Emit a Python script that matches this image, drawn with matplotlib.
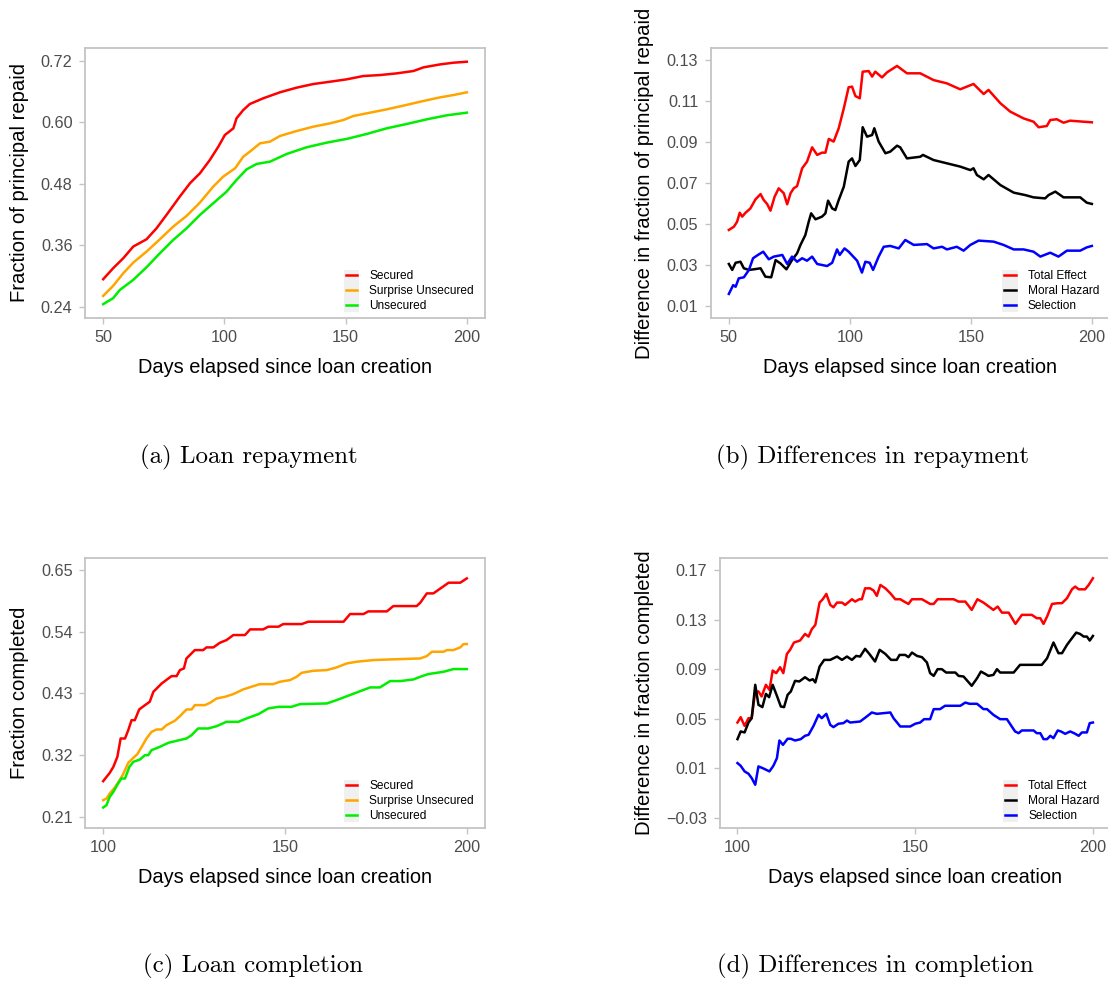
import matplotlib.pyplot as plt
from matplotlib.patches import Rectangle

plt.rcParams['font.family'] = ['Liberation Sans', 'DejaVu Sans']

# (a) fraction of principal repaid, days 50-200
a_days_secured = [50, 54.1, 58.3, 62.4, 67.9, 72, 76.1, 81.6, 85.8, 89.9, 94, 97.5, 100.2, 103.7, 105, 107.8,
                  110.5, 116, 122.9, 129.8, 136.7, 143.6, 150.4, 157.3, 164.2, 171.1, 178, 182.1, 189, 194.5, 200]
a_secured = [0.2936, 0.315, 0.3346, 0.3573, 0.3716, 0.393, 0.419, 0.4548, 0.4808, 0.5003, 0.5263, 0.5523, 0.575,
             0.588, 0.6076, 0.6238, 0.6355, 0.6466, 0.6583, 0.6674, 0.6745, 0.679, 0.6836, 0.6901, 0.692, 0.6953,
             0.6999, 0.707, 0.7128, 0.7161, 0.718]
a_days_surprise = [50, 54.1, 58.3, 62.4, 67.9, 73.4, 78.9, 84.4, 89.9, 95.4, 99.5, 104.4, 107.8, 110.5, 114.7, 118.8,
                   122.9, 129.8, 136.7, 143.6, 149.1, 153.2, 160.1, 167, 173.8, 182.1, 189, 194.5, 200]
a_surprise = [0.261, 0.2806, 0.3053, 0.326, 0.3476, 0.3716, 0.3963, 0.4171, 0.4431, 0.4743, 0.4938, 0.51, 0.5328,
              0.5425, 0.5588, 0.562, 0.5731, 0.5828, 0.5913, 0.5978, 0.6043, 0.6121, 0.6186, 0.6251, 0.6323, 0.6414,
              0.6485, 0.653, 0.6583]
a_days_unsecured = [50, 54.1, 56.9, 62.4, 67.9, 73.4, 78.9, 84.4, 89.9, 95.4, 100.9, 105, 109.2, 113.3, 118.8, 125.7,
                    133.9, 142.2, 150.4, 158.7, 167, 175.2, 183.5, 191.7, 200]
a_unsecured = [0.2449, 0.2566, 0.2728, 0.2923, 0.317, 0.3443, 0.3703, 0.393, 0.419, 0.4418, 0.4645, 0.4873, 0.5081,
               0.5185, 0.523, 0.538, 0.551, 0.5601, 0.5673, 0.577, 0.5881, 0.5965, 0.6056, 0.6134, 0.6186]

# (b) differences in repayment
b_days_total = [50, 52.1, 53.4, 54.5, 55.5, 56.9, 58.9, 61, 63.1, 64.4, 65.8, 67.2, 68.9, 70.6, 72.7, 74.1, 75.5,
                76.8, 78.2, 80.3, 82.3, 84.4, 86.5, 88.5, 89.9, 91.3, 93.3, 95.4, 97.5, 99.5, 100.9, 102.3, 104.1,
                105.3, 107.8, 109.2, 110.5, 113.3, 115.4, 119.5, 123.6, 129.1, 134.6, 140.1, 145.6, 151.1, 155.3,
                157.3, 162.2, 166.3, 171.8, 175.9, 178, 181.4, 182.8, 185.5, 188.3, 191, 196.5, 200]
b_total = [0.0471, 0.0487, 0.0511, 0.0555, 0.0536, 0.0555, 0.0576, 0.062, 0.0646, 0.0617, 0.0598, 0.0565, 0.0633,
           0.0674, 0.065, 0.0596, 0.065, 0.0674, 0.0685, 0.0772, 0.0804, 0.0874, 0.0837, 0.0848, 0.0848, 0.0915,
           0.0902, 0.0967, 0.1064, 0.1167, 0.117, 0.1124, 0.1113, 0.1243, 0.1246, 0.1219, 0.1243, 0.1215, 0.124,
           0.1271, 0.1235, 0.1235, 0.1202, 0.1186, 0.1157, 0.1183, 0.1134, 0.1154, 0.1089, 0.1048, 0.1015, 0.0999,
           0.0972, 0.0978, 0.1007, 0.1011, 0.0994, 0.1004, 0.0999, 0.0996]
b_days_moral = [50, 51.4, 52.8, 54.8, 56.2, 58.3, 60.3, 63.1, 65.1, 67.5, 69.3, 71.3, 73.8, 76.1, 78.2, 79.6, 81.6,
                83, 84, 85.8, 88.5, 89.9, 91, 92.7, 94, 95.4, 97.5, 99.5, 100.9, 102.3, 104.1, 105.3, 107.1, 109.2,
                110.1, 111.9, 114.7, 116.7, 119.5, 120.8, 123.6, 129.1, 130.2, 134.6, 140.1, 145.6, 149.8, 151.1,
                152.5, 155.3, 157.3, 162.2, 167.7, 172.5, 175.9, 180.7, 182.1, 184.9, 188.3, 195.2, 197.9, 200]
b_moral = [0.0305, 0.0276, 0.0311, 0.0316, 0.0284, 0.0276, 0.0279, 0.0284, 0.0243, 0.024, 0.0324, 0.0308, 0.0279,
           0.0324, 0.0357, 0.0398, 0.0446, 0.0511, 0.0552, 0.0523, 0.0536, 0.0552, 0.0614, 0.0576, 0.0568, 0.0617,
           0.0682, 0.0804, 0.082, 0.0783, 0.0812, 0.0972, 0.0926, 0.0934, 0.0967, 0.0902, 0.0845, 0.0853, 0.0882,
           0.0874, 0.082, 0.0828, 0.0837, 0.0812, 0.0796, 0.078, 0.0763, 0.0772, 0.0739, 0.0718, 0.0739, 0.069,
           0.0653, 0.0641, 0.063, 0.0625, 0.0641, 0.0658, 0.063, 0.063, 0.0604, 0.0598]
b_days_selection = [50, 51.8, 52.8, 54.1, 56.2, 58.3, 60, 62, 64.2, 66.5, 68.6, 72.1, 74.1, 76.1, 78.2, 80.3, 82.3,
                    84.4, 86.5, 90.6, 92.7, 94.7, 95.8, 97.8, 99.5, 103, 105, 106.4, 108.2, 109.6, 111.9, 114,
                    116.7, 120.2, 122.9, 126.4, 131.9, 134.6, 138.1, 140.1, 144.2, 147, 149.8, 153.2, 159.4, 163.5,
                    167.7, 171.8, 175.9, 178.7, 182.8, 186.2, 189.7, 195.2, 197.9, 200]
b_selection = [0.0159, 0.0202, 0.0194, 0.0235, 0.024, 0.0276, 0.0333, 0.0349, 0.0365, 0.0328, 0.0341, 0.0349,
               0.0305, 0.0341, 0.0316, 0.0333, 0.0321, 0.0341, 0.0305, 0.0295, 0.0311, 0.0376, 0.0349, 0.0381,
               0.0365, 0.0321, 0.0263, 0.0316, 0.0311, 0.0276, 0.0341, 0.0389, 0.0393, 0.0381, 0.0422, 0.0398,
               0.0402, 0.0381, 0.0389, 0.0376, 0.0389, 0.037, 0.0398, 0.0419, 0.0414, 0.0398, 0.0376, 0.0376,
               0.0365, 0.0341, 0.036, 0.0341, 0.037, 0.037, 0.0386, 0.0393]

# (c) fraction of loans completed, days 100-200
c_days_secured = [100, 101.8, 102.8, 103.9, 104.8, 106, 106.9, 107.8, 108.7, 109.9, 111.5, 112.8, 113.8, 116.1,
                  118.8, 120.2, 121.1, 122.2, 122.9, 125.2, 127.5, 128.4, 130.3, 132.1, 133.9, 135.8, 139, 140.4,
                  144, 145.4, 148.2, 149.5, 154.6, 156.4, 166.1, 167.9, 171.6, 172.9, 178, 179.8, 186.2, 187.2, 189,
                  190.8, 195, 198.2, 200]
c_secured = [0.2734, 0.2882, 0.299, 0.3168, 0.3495, 0.3495, 0.3644, 0.3822, 0.3822, 0.4013, 0.409, 0.415, 0.4328,
             0.4477, 0.4608, 0.4608, 0.4715, 0.4745, 0.4923, 0.5072, 0.5072, 0.512, 0.512, 0.5203, 0.525, 0.534,
             0.534, 0.5441, 0.5441, 0.5489, 0.5489, 0.5536, 0.5536, 0.5578, 0.5578, 0.5715, 0.5715, 0.5762, 0.5762,
             0.5857, 0.5857, 0.5917, 0.6083, 0.6083, 0.6274, 0.6274, 0.6351]
c_days_surprise = [100, 100.9, 101.8, 103.2, 104.4, 105.5, 106.9, 108.1, 109.4, 110.6, 111.9, 113.3, 114.7, 116.1,
                   117.4, 119.7, 121.1, 122.9, 124.3, 125.2, 128, 129.4, 131.2, 133.5, 135.8, 138.5, 141.3, 143.1,
                   146.8, 148.6, 151.4, 153.2, 154.6, 157.8, 161.5, 164.2, 167, 169.7, 174.3, 178.9, 187.2, 189,
                   190.4, 193.6, 194.5, 196.3, 198.2, 199.1, 200]
c_surprise = [0.2395, 0.2424, 0.2514, 0.2621, 0.2739, 0.2859, 0.3061, 0.3138, 0.3216, 0.3347, 0.3495, 0.3614,
              0.3656, 0.3656, 0.3733, 0.3811, 0.3894, 0.4013, 0.4013, 0.409, 0.409, 0.4132, 0.4209, 0.4239, 0.4287,
              0.437, 0.4429, 0.4465, 0.4465, 0.4507, 0.4537, 0.4596, 0.4667, 0.4703, 0.4715, 0.4763, 0.4834,
              0.4864, 0.4894, 0.4905, 0.4923, 0.4965, 0.5042, 0.5042, 0.5072, 0.5072, 0.512, 0.5179, 0.5179]
c_days_unsecured = [100, 100.9, 101.8, 102.8, 104.1, 105, 106, 107.2, 108.3, 110.1, 111.5, 112.4, 113.3, 115.6,
                    117.9, 120.2, 122.9, 124.3, 126.1, 128.9, 131.2, 133.9, 137.2, 139.4, 142.7, 145.4, 148.2,
                    151.8, 154.1, 161.5, 164.2, 173.4, 176.1, 178.9, 181.7, 185.3, 187.2, 189.4, 193.6, 196.3, 200]
c_unsecured = [0.2264, 0.2305, 0.2454, 0.2543, 0.2692, 0.2781, 0.2781, 0.2989, 0.3079, 0.312, 0.3198, 0.3198,
               0.3287, 0.3347, 0.3418, 0.3454, 0.3495, 0.3555, 0.3674, 0.3674, 0.3715, 0.3793, 0.3793, 0.3852,
               0.393, 0.4031, 0.406, 0.406, 0.4108, 0.412, 0.418, 0.4406, 0.4406, 0.4519, 0.4519, 0.4548, 0.4596,
               0.4644, 0.4685, 0.4733, 0.4733]

# (d) differences in completion
d_days_total = [100, 100.9, 102, 103.1, 104, 105, 105.9, 106.8, 108, 109, 109.9, 110.9, 112, 112.9, 113.9, 114.8,
                115.9, 117.6, 119, 120, 120.9, 121.9, 123.1, 124, 125, 126.1, 127, 128, 129.4, 130.3, 132.2, 133.1,
                134.3, 135, 135.9, 137.3, 138.3, 139.2, 140.2, 141.6, 143, 144.4, 145.8, 146.9, 148.1, 149.1, 151.9,
                154.2, 155.2, 156.3, 160.8, 162.2, 164.1, 165.9, 167.5, 169.2, 172, 173.2, 174.4, 176.3, 178.2, 180,
                182.8, 184.2, 185.2, 186.1, 187.1, 188.5, 190.1, 191.3, 192.7, 194.1, 195, 196, 197.8, 198.8, 200]
d_total = [0.047, 0.0513, 0.0443, 0.0505, 0.0505, 0.072, 0.072, 0.068, 0.0774, 0.0733, 0.0889, 0.0868, 0.0916,
           0.0868, 0.1023, 0.1056, 0.1115, 0.1131, 0.1184, 0.1163, 0.1222, 0.1257, 0.1437, 0.1464, 0.1507, 0.1418,
           0.1399, 0.1437, 0.1437, 0.1418, 0.1464, 0.1445, 0.1464, 0.1464, 0.1552, 0.1552, 0.1534, 0.1491, 0.1579,
           0.1552, 0.1512, 0.1464, 0.1464, 0.1445, 0.1426, 0.1464, 0.1464, 0.1426, 0.1426, 0.1464, 0.1464, 0.1445,
           0.1445, 0.1378, 0.1464, 0.1437, 0.1378, 0.1405, 0.1356, 0.1356, 0.1265, 0.1338, 0.1338, 0.1311, 0.1311,
           0.1265, 0.1324, 0.1426, 0.1432, 0.1432, 0.1472, 0.1544, 0.1566, 0.1544, 0.1544, 0.1579, 0.1633]
d_days_moral = [100, 100.9, 102, 103.1, 104, 105, 105.9, 107, 108, 108.9, 109.9, 111.1, 112.2, 113.1, 114.1, 115,
                116.2, 117.4, 119, 120.3, 121.2, 121.9, 123.1, 124.4, 126.1, 128, 129.4, 130.8, 132.2, 133.4, 134.5,
                135.9, 137.1, 138.7, 140, 141.6, 143.2, 144.8, 145.6, 147.2, 148.1, 149.1, 150.5, 151.9, 153.3,
                154.2, 155.2, 156.3, 157.5, 158.7, 161.3, 162.2, 163.6, 165.9, 167.4, 168.5, 169.7, 170.6, 172, 173,
                173.9, 177.7, 179.5, 185.6, 187.1, 188.9, 190.3, 191.3, 192.7, 193.6, 195.3, 196.4, 197.4, 198.3,
                199.1, 200]
d_moral = [0.0336, 0.0398, 0.039, 0.047, 0.0505, 0.0774, 0.0613, 0.0594, 0.0701, 0.0674, 0.0774, 0.0685, 0.0599,
           0.0594, 0.0693, 0.072, 0.0806, 0.0801, 0.0835, 0.0809, 0.0819, 0.0793, 0.0921, 0.0975, 0.0975, 0.1002,
           0.0975, 0.1002, 0.0975, 0.1007, 0.1002, 0.1064, 0.1023, 0.0962, 0.1056, 0.1023, 0.0975, 0.0975, 0.1015,
           0.1015, 0.0997, 0.1034, 0.1007, 0.0997, 0.0954, 0.0868, 0.0846, 0.09, 0.09, 0.0873, 0.0873, 0.0846,
           0.0841, 0.0766, 0.0827, 0.0881, 0.0862, 0.0846, 0.0854, 0.09, 0.0873, 0.0873, 0.0935, 0.0935, 0.0988,
           0.1115, 0.1029, 0.1029, 0.1096, 0.1131, 0.1195, 0.1184, 0.1163, 0.1163, 0.1131, 0.1168]
d_days_selection = [100, 100.9, 102, 103.1, 104, 105, 105.9, 107.1, 109, 110.1, 111.1, 111.8, 112.8, 114.1, 115,
                    116.2, 117.8, 119, 120, 121.4, 122.8, 123.7, 125, 126.1, 127, 128.4, 129.8, 130.8, 131.7, 134.5,
                    136.4, 137.8, 139.2, 143, 143.9, 145.8, 148.6, 150, 151.4, 152.5, 154.2, 155.2, 157, 158.4,
                    162.7, 164.1, 165.3, 167.4, 169.2, 170.2, 172, 173.9, 175.8, 178.1, 179.1, 180, 183.3, 184.2,
                    185.2, 186.1, 187.1, 188, 188.9, 190.1, 191, 192.2, 193.6, 194.7, 196, 196.9, 198.3, 199.1, 200]
d_selection = [0.0143, 0.0121, 0.0076, 0.0057, 0.0022, -0.0032, 0.0116, 0.0102, 0.0076, 0.0121, 0.0183, 0.0325,
               0.029, 0.0339, 0.0339, 0.0325, 0.0336, 0.0363, 0.0371, 0.0443, 0.0532, 0.0505, 0.054, 0.0451, 0.0433,
               0.046, 0.0465, 0.0486, 0.047, 0.0478, 0.0519, 0.0551, 0.054, 0.0551, 0.0505, 0.0438, 0.0438, 0.046,
               0.047, 0.0497, 0.0497, 0.0578, 0.0578, 0.0605, 0.0605, 0.0631, 0.0621, 0.0621, 0.0578, 0.0578,
               0.0532, 0.0497, 0.0497, 0.0398, 0.0384, 0.0406, 0.0406, 0.0384, 0.0384, 0.0336, 0.0336, 0.0363,
               0.0344, 0.0406, 0.0398, 0.0379, 0.0398, 0.0384, 0.0363, 0.039, 0.039, 0.0465, 0.047]

group_labels = ['Secured', 'Surprise Unsecured', 'Unsecured']
group_colors = ['#FF0000', '#FFA500', '#00EE00']
effect_labels = ['Total Effect', 'Moral Hazard', 'Selection']
effect_colors = ['#FF0000', '#000000', '#0000FF']

W, H = 1108, 983
fig = plt.figure(figsize=(W / 100, H / 100), dpi=100)


def fmt(t):
    # proper minus sign for negative ticks
    return ('%.2f' % t).replace('-', '\u2212')


def panel(rect, series, labels, colors, xlim, ylim, xticks, yticks, ylabel, label_x):
    left, top, width, height = rect
    ax = fig.add_axes([left / W, 1 - (top + height) / H, width / W, height / H])
    for (x, y), lab, col in zip(series, labels, colors):
        ax.plot(x, y, color=col, lw=1.8, label=lab, solid_joinstyle='round')
    ax.set_xlim(*xlim)
    ax.set_ylim(*ylim)
    ax.set_xticks(xticks)
    ax.set_yticks(yticks)
    ax.set_yticklabels([fmt(t) for t in yticks])
    for s in ax.spines.values():
        s.set_color('#C4C4C4')
        s.set_linewidth(1.3)
    ax.tick_params(length=4, width=1, color='#C4C4C4', labelcolor='#4D4D4D', labelsize=11.7, pad=5)
    ax.set_xlabel('Days elapsed since loan creation', fontsize=14.4, color='black')
    ax.xaxis.set_label_coords(0.5, -0.148)
    ax.set_ylabel(ylabel, fontsize=14.6, color='black')
    ax.yaxis.set_label_coords((label_x + 11 - left) / width, 0.5)
    leg = ax.legend(loc='lower right', bbox_to_anchor=(1 - 11 / width, 6 / height), frameon=False,
                    fontsize=8.6, handlelength=0.95, handletextpad=1.0, labelspacing=0.25, borderpad=0,
                    borderaxespad=0)
    return ax, leg


panels = []
panels.append(panel((85, 48.3, 400, 269.4),
                    [(a_days_secured, a_secured), (a_days_surprise, a_surprise), (a_days_unsecured, a_unsecured)],
                    group_labels, group_colors, (42.5, 207.5), (0.2185, 0.7442),
                    [50, 100, 150, 200], [0.24, 0.36, 0.48, 0.60, 0.72], 'Fraction of principal repaid', 18))
panels.append(panel((710.7, 48.3, 399.3, 269.4),
                    [(b_days_total, b_total), (b_days_moral, b_moral), (b_days_selection, b_selection)],
                    effect_labels, effect_colors, (42.5, 207.5), (0.0043, 0.1357),
                    [50, 100, 150, 200], [0.01, 0.03, 0.05, 0.07, 0.09, 0.11, 0.13],
                    'Difference in fraction of principal repaid', 643))
panels.append(panel((85, 558.3, 400, 269.4),
                    [(c_days_secured, c_secured), (c_days_surprise, c_surprise), (c_days_unsecured, c_unsecured)],
                    group_labels, group_colors, (95, 205), (0.1904, 0.6709),
                    [100, 150, 200], [0.21, 0.32, 0.43, 0.54, 0.65], 'Fraction completed', 18))
panels.append(panel((719.7, 558.3, 391, 269.4),
                    [(d_days_total, d_total), (d_days_moral, d_moral), (d_days_selection, d_selection)],
                    effect_labels, effect_colors, (95, 205), (-0.0378, 0.1794),
                    [100, 150, 200], [-0.03, 0.01, 0.05, 0.09, 0.13, 0.17],
                    'Difference in fraction completed', 643))

# grey box behind the legend keys
fig.canvas.draw()
r = fig.canvas.get_renderer()
for ax, leg in panels:
    hb = [h.get_window_extent(r) for h in leg.legend_handles]
    tb = [t.get_window_extent(r) for t in leg.get_texts()]
    x0 = min(b.x0 for b in hb) - 2
    x1 = max(b.x1 for b in hb) + 2
    y0 = min(b.y0 for b in tb)
    y1 = max(b.y1 for b in tb)
    inv = ax.transAxes.inverted()
    (ax0, ay0), (ax1, ay1) = inv.transform([(x0, y0), (x1, y1)])
    ax.add_patch(Rectangle((ax0, ay0), ax1 - ax0, ay1 - ay0, transform=ax.transAxes,
                           facecolor='#F0F0F0', edgecolor='none', zorder=4, clip_on=False))

captions = ['(a) Loan repayment', '(b) Differences in repayment', '(c) Loan completion',
            '(d) Differences in completion']
cap_pos = [(249, 457), (873, 457), (253, 966), (875, 966)]
for txt, (cx, cy) in zip(captions, cap_pos):
    fig.text(cx / W, 1 - cy / H, txt, family='cmr10', fontsize=17.9, ha='center', va='center')

fig.savefig('out.png', dpi=100)
